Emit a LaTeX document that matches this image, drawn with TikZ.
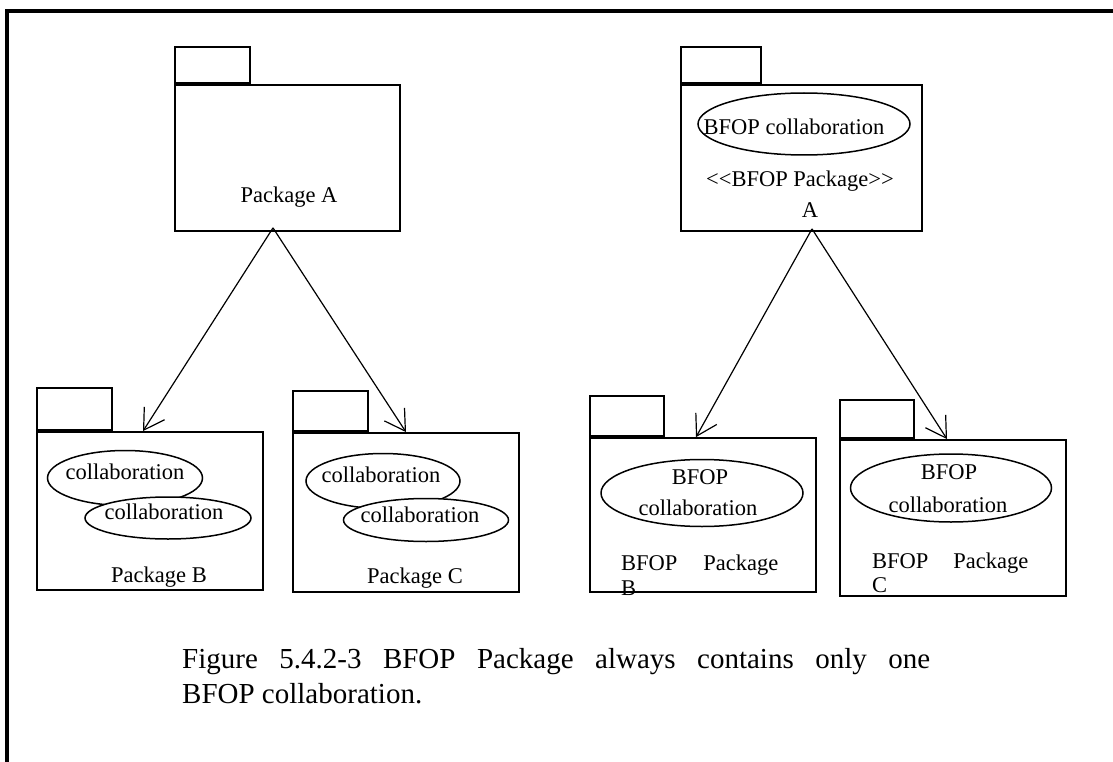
\documentclass[tikz,border=0pt]{standalone}
\usepackage{fontspec}
\setmainfont{Liberation Serif}
\usetikzlibrary{shapes.geometric, arrows.meta}

\begin{document}
\begin{tikzpicture}[x=1pt, y=-1pt,
    pkg/.style={rectangle, draw, line width=1.8pt, inner sep=0pt},
    tab/.style={rectangle, draw, line width=1.8pt, inner sep=0pt, anchor=south west},
    collab/.style={ellipse, draw, fill=white, line width=1.5pt, inner sep=0pt},
    txt/.style={inner sep=0pt, anchor=base, font=\fontsize{22.5}{25}\selectfont},
    dep/.style={line width=1.2pt, -{Straight Barb[length=20pt, width=24pt]}}]
    \useasboundingbox (0,0) rectangle (1113,762);
    % frame
    \draw[line width=4pt] (7,762) -- (7,11) -- (1113,11);

    % left side: plain packages
    \node[pkg, minimum width=225pt, minimum height=146pt] (pA) at (287.5,158) {};
    \node[tab, minimum width=75pt, minimum height=36pt] (tA) at (pA.north west) {};
    \node[txt] (lA) at (289,202) {Package A};

    \node[pkg, minimum width=226pt, minimum height=158pt] (pB) at (150,511) {};
    \node[tab, minimum width=75pt, minimum height=42pt] (tB) at (pB.north west) {};
    \node[collab, minimum width=155pt, minimum height=55pt] (eB1) at (125,478) {};
    \node[txt] (tB1) at (125,479) {collaboration};
    \node[collab, minimum width=166pt, minimum height=42pt] (eB2) at (168,518) {};
    \node[txt] (tB2) at (164,519) {collaboration};
    \node[txt] (lB) at (159,582) {Package B};

    \node[pkg, minimum width=226pt, minimum height=159pt] (pC) at (406,512.5) {};
    \node[tab, minimum width=75pt, minimum height=40pt] (tC) at (pC.north west) {};
    \node[collab, minimum width=154pt, minimum height=55pt] (eC1) at (383,481) {};
    \node[txt] (tC1) at (381,482) {collaboration};
    \node[collab, minimum width=165pt, minimum height=43pt] (eC2) at (426,520) {};
    \node[txt] (tC2) at (420,522) {collaboration};
    \node[txt] (lC) at (415,583) {Package C};

    \coordinate (apexA) at ([xshift=-14.5pt, yshift=4pt]pA.south);
    \draw[dep] (apexA) -- ([xshift=-7pt]pB.north);
    \draw[dep] (apexA) -- (pC.north);

    % right side: BFOP packages
    \node[pkg, minimum width=241pt, minimum height=146pt] (pRA) at (801.5,158) {};
    \node[tab, minimum width=80pt, minimum height=36pt] (tRA) at (pRA.north west) {};
    \node[collab, minimum width=212pt, minimum height=62pt] (eRA) at (804,124) {};
    \node[txt] (tRA1) at (794,135) {BFOP collaboration};
    \node[txt] (sRA) at (800,186) {<{}<BFOP Package>{}>};
    \node[txt] (lRA) at (810,218) {A};

    \node[pkg, minimum width=226pt, minimum height=154pt] (pRB) at (703,515) {};
    \node[tab, minimum width=74pt, minimum height=40pt] (tRB) at (pRB.north west) {};
    \node[collab, minimum width=202pt, minimum height=67pt] (eRB) at (702,493) {};
    \node[txt] (tRB1) at (700,484) {BFOP};
    \node[txt] (tRB2) at (698,515) {collaboration};
    \node[txt, anchor=base west] (lRB1) at (621,570) {BFOP\hspace{26pt}Package};
    \node[txt, anchor=base west] (lRB2) at (621,595) {B};

    \node[pkg, minimum width=226pt, minimum height=156pt] (pRC) at (953,518) {};
    \node[tab, minimum width=74pt, minimum height=38pt] (tRC) at (pRC.north west) {};
    \node[collab, minimum width=201pt, minimum height=68pt] (eRC) at (951,488) {};
    \node[txt] (tRC1) at (949,479) {BFOP};
    \node[txt] (tRC2) at (948,512) {collaboration};
    \node[txt, anchor=base west] (lRC1) at (872,568) {BFOP\hspace{25pt}Package};
    \node[txt, anchor=base west] (lRC2) at (872,592) {C};

    \coordinate (apexR) at ([xshift=10.5pt, yshift=3pt]pRA.south);
    \draw[dep] (apexR) -- ([xshift=-7pt]pRB.north);
    \draw[dep] (apexR) -- ([xshift=-6pt]pRC.north);

    % caption
    \node[anchor=north west, inner sep=0pt, text width=748pt, align=justify,
          font=\fontsize{29}{35}\selectfont] (cap) at (182,648)
          {Figure 5.4.2-3 BFOP Package always contains only one\linebreak BFOP collaboration.};
\end{tikzpicture}
\end{document}
